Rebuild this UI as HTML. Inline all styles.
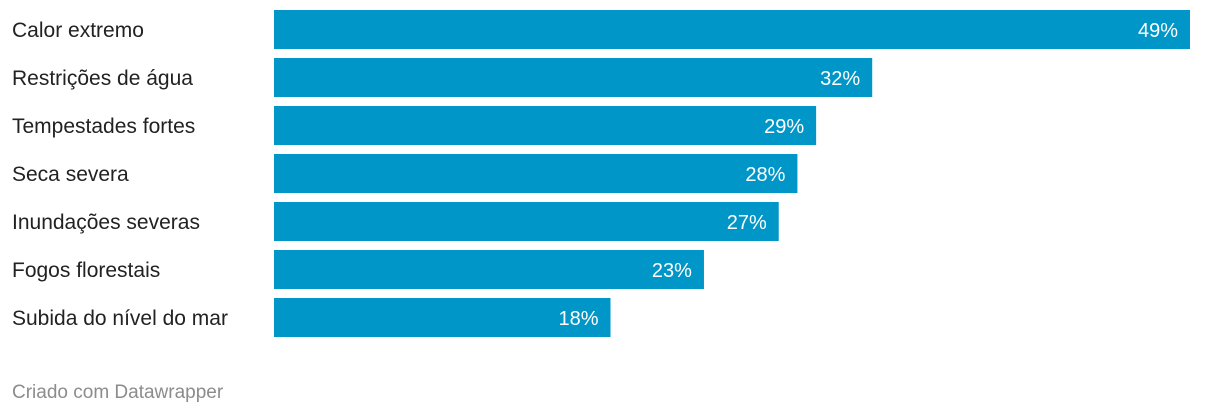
<!DOCTYPE html>
<html><head><meta charset="utf-8"><style>
body{margin:0;background:#fff;width:1220px;height:414px;overflow:hidden;font-family:"Liberation Sans",sans-serif}
svg text{font-family:"Liberation Sans",sans-serif}
</style></head><body>
<svg id="chart" width="1220" height="414" xmlns="http://www.w3.org/2000/svg">
<text x="12" y="398" font-size="19" fill="#8c8c8c">Criado com Datawrapper</text>
</svg>
<script>
const categories=["Calor extremo","Restrições de água","Tempestades fortes","Seca severa","Inundações severas","Fogos florestais","Subida do nível do mar"];
const values=[49,32,29,28,27,23,18];
const valueLabels=["49%","32%","29%","28%","27%","23%","18%"];
const svg=document.getElementById('chart');
const NS='http://www.w3.org/2000/svg';
const x0=274, xScale=v=>v*(916/49);
const yScale=i=>10+i*48, bh=39;
categories.forEach((c,i)=>{
  const y=yScale(i);
  const lab=document.createElementNS(NS,'text');
  
  
  lab.setAttribute('x',12);lab.setAttribute('y',y+27);lab.setAttribute('font-size','21');lab.setAttribute('fill','#222');
  lab.textContent=c;svg.appendChild(lab);
  const r=document.createElementNS(NS,'rect');
  
  
  r.setAttribute('x',x0);r.setAttribute('y',y);r.setAttribute('width',xScale(values[i]));r.setAttribute('height',bh);r.setAttribute('fill','#0096c7');
  svg.appendChild(r);
  const v=document.createElementNS(NS,'text');
  
  
  v.setAttribute('x',x0+xScale(values[i])-12);v.setAttribute('y',y+27);v.setAttribute('font-size','20');v.setAttribute('fill','#fff');v.setAttribute('text-anchor','end');
  v.textContent=valueLabels[i];svg.appendChild(v);
});
</script>
</body></html>
